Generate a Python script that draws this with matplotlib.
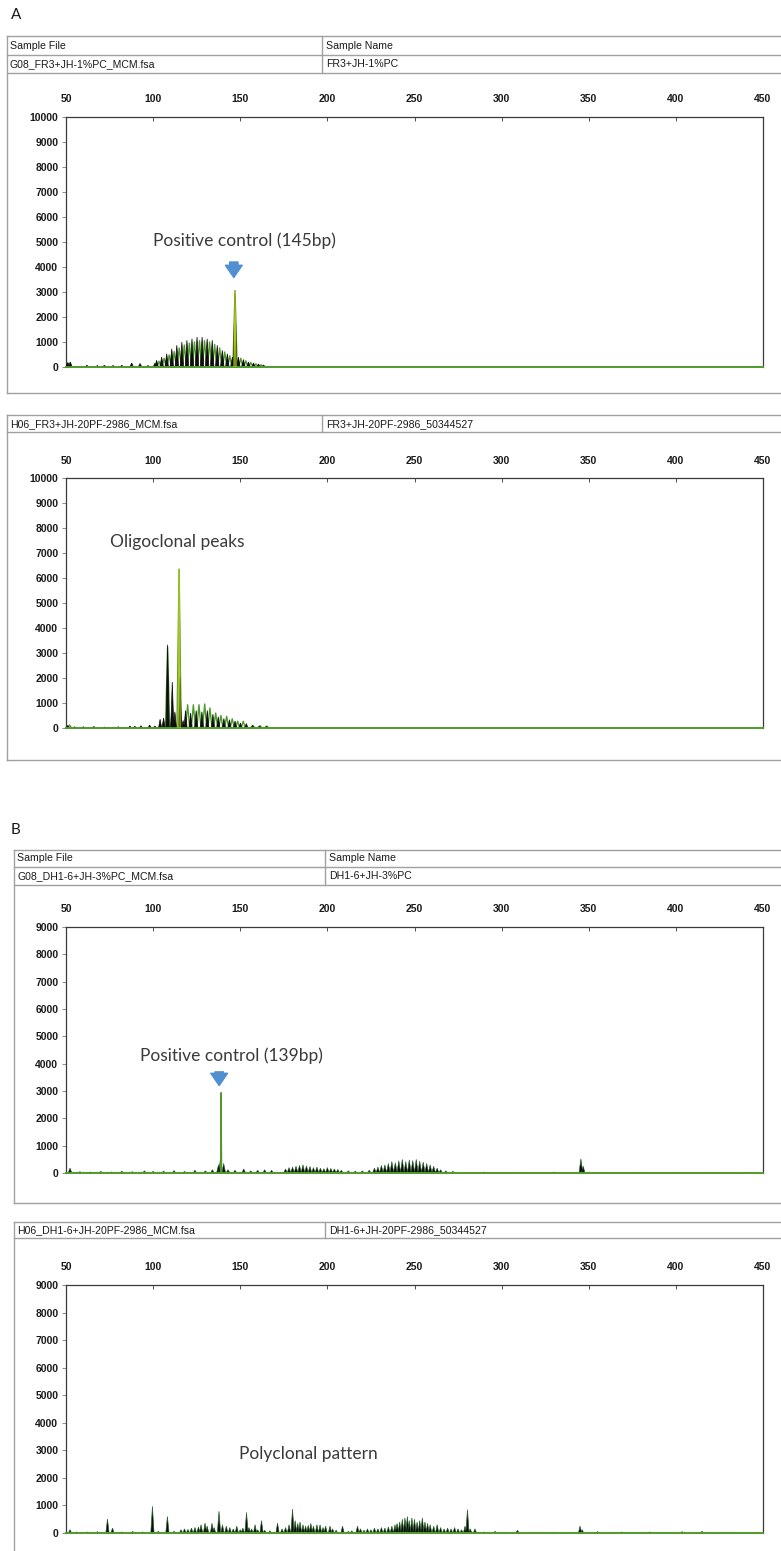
import matplotlib
matplotlib.use("Agg")
import matplotlib.pyplot as plt
from matplotlib.lines import Line2D

# ---------------- data ----------------
size_ticks = [50, 100, 150, 200, 250, 300, 350, 400, 450]
ticks_A = [0, 1000, 2000, 3000, 4000, 5000, 6000, 7000, 8000, 9000, 10000]
ticks_B = [0, 1000, 2000, 3000, 4000, 5000, 6000, 7000, 8000, 9000]

# Panel A, top: positive control (145 bp)
a1_black_bp = [51.0, 52.5, 62, 68, 72, 77, 82, 87.7, 92.5, 97, 101,
               102.0, 104.9, 107.8, 110.7, 113.6, 116.5, 119.4, 122.3, 125.2, 128.1,
               131.0, 133.9, 136.8, 139.7, 142.6, 145.5, 147.0,
               148.9, 151.8, 154.7, 157.6, 160.5, 163.4]
a1_black_rfu = [180, 200, 70, 60, 70, 60, 70, 160, 140, 60, 150,
                270, 400, 530, 730, 870, 1000, 1070, 1130, 1200, 1200,
                1130, 1070, 870, 670, 530, 400, 2900,
                400, 300, 200, 160, 120, 80]
a1_green_bp = [51.8, 103.4, 106.3, 109.2, 112.1, 115.0, 117.9, 120.8, 123.7, 126.6, 129.5,
               132.4, 135.3, 138.2, 141.1, 144.0, 147.0, 150.3, 153.2, 156.1, 159.0, 162.0]
a1_green_rfu = [160, 230, 350, 480, 620, 760, 880, 950, 1000, 1050, 1050,
                1000, 900, 760, 600, 450, 3050, 350, 250, 180, 130, 90]

# Panel A, bottom: oligoclonal peaks
a2_black_bp = [51.0, 55, 60, 66, 72, 80, 86.7, 89.5, 93, 98, 101, 104, 106,
               108.3, 111.0, 112.5, 115.4, 117.2, 118.6,
               121.5, 124.7, 128.0, 131.1, 134.3, 137.4, 140.6, 143.8, 147.0,
               150.1, 153.5, 157.0, 161.0, 165.0]
a2_black_rfu = [100, 50, 50, 60, 40, 50, 80, 70, 90, 120, 80, 350, 400,
                3330, 1840, 650, 2040, 300, 700,
                600, 700, 650, 700, 550, 450, 380, 330, 280,
                200, 180, 100, 80, 60]
a2_green_bp = [52.0, 108.3, 111.0, 114.9, 119.8, 123.1, 126.3, 129.6, 132.6, 135.9,
               138.9, 142.2, 145.4, 148.5, 151.7, 157.3, 161.4, 165.2]
a2_green_rfu = [120, 3250, 600, 6350, 930, 930, 930, 960, 800, 600,
                500, 470, 370, 270, 270, 100, 90, 80]

# Panel B, top: positive control (139 bp)
b1_control_bp = [139.0]
b1_control_rfu = [2950]
b1_bp = [52.3, 58, 64, 70, 76, 82, 88, 95, 100, 106, 112, 118, 124, 130, 134,
         137.5, 138.6, 140.5, 143, 147, 152, 156, 160, 164, 168,
         176, 178, 180, 182, 184, 186, 188, 190, 192, 194, 196, 198, 200, 202, 204,
         206, 208, 212, 216, 220, 224,
         227, 229, 231, 233, 235, 237, 239, 241, 243, 245, 247, 249, 251, 253, 255,
         257, 259, 261, 263, 265, 268, 272,
         290, 310, 330, 345.5, 346.8, 360, 380, 400, 420, 440]
b1_rfu = [180, 50, 40, 60, 40, 70, 50, 80, 60, 70, 90, 60, 100, 80, 120,
          300, 500, 350, 120, 100, 150, 80, 100, 120, 100,
          150, 200, 220, 250, 280, 300, 260, 240, 200, 220, 180, 160, 200, 170, 150,
          130, 100, 80, 70, 80, 100,
          180, 220, 280, 300, 350, 420, 380, 450, 500, 420, 480, 460, 500, 440, 400,
          350, 300, 250, 180, 120, 80, 60,
          40, 30, 40, 520, 250, 30, 30, 30, 30, 30]

# Panel B, bottom: polyclonal pattern
b2_bp = [52.3, 56, 62, 68, 73.8, 76.7, 82, 88.2, 94, 99.6, 103, 108.2, 112,
         116, 118, 120, 122, 124, 126, 127.5, 129.8, 131, 133.8, 135, 137.8, 139.8,
         142, 144, 146, 148, 150, 151.5, 153.6, 155, 156.5, 158.5, 160, 162.2, 164,
         167, 171.4, 174, 176, 178, 180, 181.5, 183, 184.3, 186, 187.5, 189, 190.5,
         192, 194, 195.8, 197.5, 199, 201.5, 203, 205, 208.7, 212, 214, 217.3, 219,
         221, 223, 225, 227, 229, 231, 233, 235, 237, 238.8, 240, 241.5, 243, 244.5,
         245.9, 247, 248.5, 250, 251.5, 253, 254.5, 256, 257.5, 259, 261, 263, 265,
         267, 269, 271, 273, 275, 277, 279, 280.4, 282, 284.7, 290, 296.2, 302,
         309.1, 320, 330, 345, 346.2, 355, 369, 385, 403.6, 415, 430]
b2_rfu = [120, 40, 40, 50, 510, 180, 40, 60, 40, 970, 60, 600, 60,
          120, 150, 130, 180, 200, 220, 300, 360, 250, 350, 200, 790, 300,
          250, 200, 150, 250, 120, 180, 750, 200, 150, 300, 120, 450, 100,
          80, 360, 150, 200, 300, 870, 450, 350, 400, 300, 250, 280, 350,
          250, 300, 300, 200, 250, 250, 150, 100, 250, 60, 80, 250, 150,
          100, 150, 120, 180, 150, 200, 180, 220, 250, 300, 350, 400, 500, 550,
          600, 450, 550, 500, 400, 450, 550, 400, 350, 300, 250, 300, 200,
          150, 180, 150, 200, 150, 120, 250, 850, 150, 150, 40, 60, 30,
          100, 30, 30, 250, 120, 50, 40, 40, 50, 60, 30]

# ---------------- figure ----------------
W, H = 781, 1551
fig = plt.figure(figsize=(W / 100, H / 100), dpi=100)
fig.patch.set_facecolor("white")

GRID = "#a0a0a0"
TXT = "#1a1a1a"
GREEN = "#4f9a2c"
LIME = "#a9c51a"
BLACK = "#0d0d0d"
BLUE = "#4f8fd2"
ANN = "#3a3a3a"


def fx(px):
    return px / W


def fy(py):
    return 1 - py / H


def hline(y, x0, x1):
    fig.add_artist(Line2D([fx(x0), fx(x1)], [fy(y), fy(y)], color=GRID, lw=1.0))


def vline(x, y0, y1):
    fig.add_artist(Line2D([fx(x), fx(x)], [fy(y0), fy(y1)], color=GRID, lw=1.0))


def htext(x, y, s):
    fig.text(fx(x), fy(y), s, fontsize=7.6, family="Liberation Sans", color=TXT,
             ha="left", va="center")


def box(left, top, bottom, rows, divider, texts):
    right = W + 10
    hline(top, left, right)
    for r in rows:
        hline(r, left, right)
    if bottom < H:
        hline(bottom, left, right)
    vline(left, top, min(bottom, H + 5))
    vline(divider, top, rows[-1])
    for (x, y, s) in texts:
        htext(x, y, s)


def make_axes(top, bottom, ymax, yticks):
    l, r = 66, 763
    ax = fig.add_axes([fx(l), fy(bottom), fx(r) - fx(l), (bottom - top) / H])
    ax.set_xlim(50, 450)
    ax.set_ylim(0, ymax)
    ax.xaxis.tick_top()
    ax.set_xticks(size_ticks)
    ax.set_xticklabels([str(t) for t in size_ticks])
    ax.set_yticks(yticks)
    ax.set_yticklabels([str(t) for t in yticks])
    ax.tick_params(axis="x", direction="in", length=3, width=0.6, pad=9,
                   labelsize=7.5, colors="#333333", labelcolor=TXT)
    ax.tick_params(axis="y", direction="out", length=3, width=0.6, pad=2.5,
                   labelsize=7.5, colors="#777777", labelcolor=TXT)
    for lab in ax.get_xticklabels() + ax.get_yticklabels():
        lab.set_fontweight("bold")
        lab.set_family("Liberation Sans")
    for s in ("left", "top", "right"):
        ax.spines[s].set_color("#3a3a3a")
        ax.spines[s].set_linewidth(0.9)
    ax.spines["bottom"].set_visible(False)
    ax.axhline(0, color=GREEN, lw=1.4, zorder=5, clip_on=False)
    return ax


def peaks(ax, bps, rfus, hw, face, edge, lw=0.5, z=3, fill=True):
    for p, h in zip(bps, rfus):
        xs = [p - hw, p, p + hw]
        ys = [0, h, 0]
        if fill:
            ax.fill(xs, ys, facecolor=face, edgecolor=edge, lw=lw, zorder=z)
        else:
            ax.plot(xs, ys, color=edge, lw=lw, zorder=z)


# ---- labels A / B ----
fig.text(fx(11), fy(15), "A", fontsize=11, family="Lato", color=TXT, ha="left", va="center")
fig.text(fx(11), fy(830), "B", fontsize=11, family="Lato", color=TXT, ha="left", va="center")

# ---- boxes ----
box(7, 36, 393, [55, 73], 322,
    [(10, 46, "Sample File"), (10, 64, "G08_FR3+JH-1%PC_MCM.fsa"),
     (326, 46, "Sample Name"), (326, 64, "FR3+JH-1%PC")])
box(7, 415, 760, [432], 322,
    [(10, 424, "H06_FR3+JH-20PF-2986_MCM.fsa"), (326, 424, "FR3+JH-20PF-2986_50344527")])
box(14, 850, 1203, [867, 885], 325,
    [(17, 858, "Sample File"), (17, 876, "G08_DH1-6+JH-3%PC_MCM.fsa"),
     (329, 858, "Sample Name"), (329, 876, "DH1-6+JH-3%PC")])
box(14, 1222, H + 20, [1238], 325,
    [(17, 1230, "H06_DH1-6+JH-20PF-2986_MCM.fsa"), (329, 1230, "DH1-6+JH-20PF-2986_50344527")])

# ---- A1 ----
ax1 = make_axes(117, 367, 10000, ticks_A)
peaks(ax1, a1_green_bp, a1_green_rfu, 1.2, "none", GREEN, lw=1.0, z=3, fill=False)
peaks(ax1, a1_black_bp, a1_black_rfu, 1.0, BLACK, BLACK, lw=0.5, z=4)
peaks(ax1, [147.0], [3050], 0.55, "none", LIME, lw=0.9, z=5, fill=False)
ax1.text(152.5, 5050, "Positive control (145bp)", fontsize=12.5, family="Lato",
         color=ANN, ha="center", va="center")
ax1.annotate("", xy=(146.3, 3580), xytext=(146.3, 4200),
             arrowprops=dict(arrowstyle="simple,head_width=1.1,head_length=0.8,tail_width=0.55",
                             color=BLUE, mutation_scale=11, shrinkA=0, shrinkB=0))

# ---- A2 ----
ax2 = make_axes(478, 728, 10000, ticks_A)
peaks(ax2, a2_green_bp, a2_green_rfu, 1.2, "none", GREEN, lw=1.0, z=3, fill=False)
peaks(ax2, a2_black_bp, a2_black_rfu, 0.9, BLACK, BLACK, lw=0.5, z=4)
peaks(ax2, [114.9], [6350], 0.6, "none", LIME, lw=0.9, z=5, fill=False)
ax2.text(114.0, 7450, "Oligoclonal peaks", fontsize=12.5, family="Lato",
         color=ANN, ha="center", va="center")

# ---- B1 ----
ax3 = make_axes(927, 1173, 9000, ticks_B)
peaks(ax3, b1_bp, b1_rfu, 1.1, BLACK, "#245f24", lw=0.4, z=4)
peaks(ax3, b1_control_bp, b1_control_rfu, 0.35, BLACK, GREEN, lw=0.9, z=5)
ax3.text(145.0, 4280, "Positive control (139bp)", fontsize=12.5, family="Lato",
         color=ANN, ha="center", va="center")
ax3.annotate("", xy=(137.9, 3200), xytext=(137.9, 3700),
             arrowprops=dict(arrowstyle="simple,head_width=1.1,head_length=0.8,tail_width=0.55",
                             color=BLUE, mutation_scale=11, shrinkA=0, shrinkB=0))

# ---- B2 ----
ax4 = make_axes(1285, 1533, 9000, ticks_B)
peaks(ax4, b2_bp, b2_rfu, 0.95, BLACK, "#245f24", lw=0.45, z=4)
ax4.text(189.0, 2850, "Polyclonal pattern", fontsize=12.5, family="Lato",
         color=ANN, ha="center", va="center")

fig.savefig("out.png", dpi=100, facecolor="white")
